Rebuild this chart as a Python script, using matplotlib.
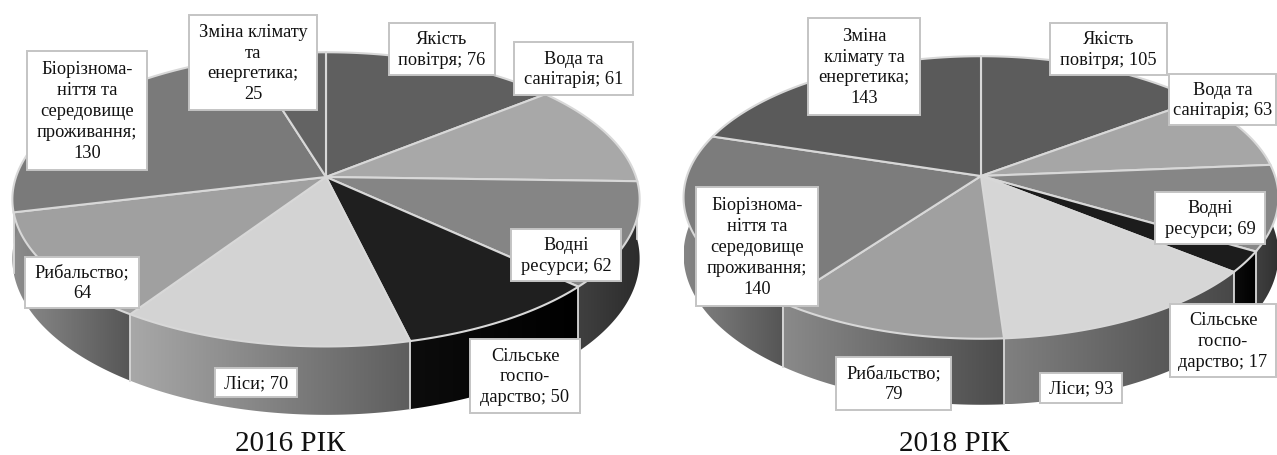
import numpy as np
import matplotlib
matplotlib.use('Agg')
import matplotlib.pyplot as plt
from matplotlib.colors import LinearSegmentedColormap
from matplotlib.patches import Polygon, Rectangle

plt.rcParams['font.family'] = ['Liberation Serif', 'DejaVu Serif']

# order: clockwise from 12 o'clock
values_2016 = [76, 61, 62, 50, 70, 64, 130, 25]
values_2018 = [105, 63, 69, 17, 93, 79, 140, 143]

names_2016 = ['Якість\nповітря; 76', 'Вода та\nсанітарія; 61', 'Водні\nресурси; 62',
              'Сільське\nгоспо-\nдарство; 50', 'Ліси; 70', 'Рибальство;\n64',
              'Біорізнома-\nніття та\nсередовище\nпроживання;\n130',
              'Зміна клімату\nта\nенергетика;\n25']
names_2018 = ['Якість\nповітря; 105', 'Вода та\nсанітарія; 63', 'Водні\nресурси; 69',
              'Сільське\nгоспо-\nдарство; 17', 'Ліси; 93', 'Рибальство;\n79',
              'Біорізнома-\nніття та\nсередовище\nпроживання;\n140',
              'Зміна\nклімату та\nенергетика;\n143']

top_2016 = ['#5f5f5f', '#a8a8a8', '#858585', '#1f1f1f', '#d3d3d3', '#a0a0a0', '#7a7a7a', '#636363']
top_2018 = ['#5c5c5c', '#a6a6a6', '#868686', '#1c1c1c', '#d6d6d6', '#a0a0a0', '#7c7c7c', '#5a5a5a']

# side wall gradients, left to right
side_2016 = [('#5f5f5f', '#5f5f5f'), ('#404040', '#404040'), ('#404040', '#2c2c2c'), ('#0c0c0c', '#000000'),
             ('#a8a8a8', '#5e5e5e'), ('#8c8c8c', '#565656'), ('#858585', '#707070'), ('#636363', '#636363')]
side_2018 = [('#5c5c5c', '#5c5c5c'), ('#404040', '#404040'), ('#404040', '#303030'), ('#0c0c0c', '#000000'),
             ('#808080', '#484848'), ('#8a8a8a', '#4c4c4c'), ('#858585', '#555555'), ('#5a5a5a', '#5a5a5a')]

# label boxes: left, top, right, bottom in pixels
boxes_2016 = [(389, 24, 495, 76), (514, 43, 633, 96), (511, 230, 621, 282), (470, 340, 580, 414),
              (215, 369, 297, 398), (25, 258, 139, 309), (27, 52, 147, 171), (189, 16, 317, 111)]
boxes_2018 = [(1050, 24, 1167, 76), (1169, 75, 1276, 126), (1155, 193, 1265, 245), (1170, 305, 1276, 378),
              (1040, 374, 1122, 404), (836, 358, 951, 411), (696, 188, 818, 307), (808, 19, 920, 116)]

EDGE = '#d8d8d8'
K = 0.152


def rim(angles, cx, cy, rx, ry):
    u = np.sin(angles)
    v = np.cos(angles)
    w = 1 + K * v
    return cx + rx * u / w, cy - ry * v / w, w


def draw_pie(ax, values, names, tops, sides, boxes, cx, cy, rx, ry, depth, title, title_x):
    edges = np.cumsum([0] + values) / sum(values) * 2 * np.pi
    # side walls first, the top face covers the back part
    for i in range(len(values)):
        a = np.linspace(edges[i], edges[i + 1], 80)
        x, y, w = rim(a, cx, cy, rx, ry)
        px = np.r_[x, x[::-1]]
        py = np.r_[y, (y + depth / w)[::-1]]
        poly = Polygon(np.c_[px, py], closed=True, fc='none', ec='none')
        ax.add_patch(poly)
        cmap = LinearSegmentedColormap.from_list('s', sides[i])
        im = ax.imshow(np.linspace(0, 1, 128).reshape(1, -1), cmap=cmap, aspect='auto',
                       extent=(px.min(), px.max(), py.max(), py.min()), zorder=1)
        im.set_clip_path(poly)
    for e in edges:
        x, y, w = rim(np.array([e]), cx, cy, rx, ry)
        if np.cos(e) < 0:
            ax.plot([x[0], x[0]], [y[0], y[0] + depth / w[0]], color=EDGE, lw=1.3, zorder=2)
    # top face
    for i in range(len(values)):
        a = np.linspace(edges[i], edges[i + 1], 80)
        x, y, w = rim(a, cx, cy, rx, ry)
        pts = np.c_[np.r_[cx, x], np.r_[cy, y]]
        ax.add_patch(Polygon(pts, closed=True, fc=tops[i], ec=EDGE, lw=1.5, zorder=3))
    # labels
    for name, (l, t, r, b) in zip(names, boxes):
        ax.add_patch(Rectangle((l, t), r - l, b - t, fc='white', ec='#c4c4c4', lw=1.4, zorder=4))
        ax.text((l + r) / 2, (t + b) / 2, name, ha='center', va='center', fontsize=13.2,
                linespacing=1.3, color='#111111', zorder=5)
    ax.text(title_x, 444, title, ha='center', va='center', fontsize=21, color='#111111', zorder=5)


fig = plt.figure(figsize=(12.77, 4.56), dpi=100)
ax = fig.add_axes([0, 0, 1, 1])
draw_pie(ax, values_2016, names_2016, top_2016, side_2016, boxes_2016,
         326, 178, 310, 143.7, 58, '2016 РІК', 290)
draw_pie(ax, values_2018, names_2018, top_2018, side_2018, boxes_2018,
         981, 177, 294, 138, 56, '2018 РІК', 954)
ax.set_xlim(0, 1277)
ax.set_ylim(456, 0)
ax.axis('off')
fig.savefig('out.png', dpi=100)
